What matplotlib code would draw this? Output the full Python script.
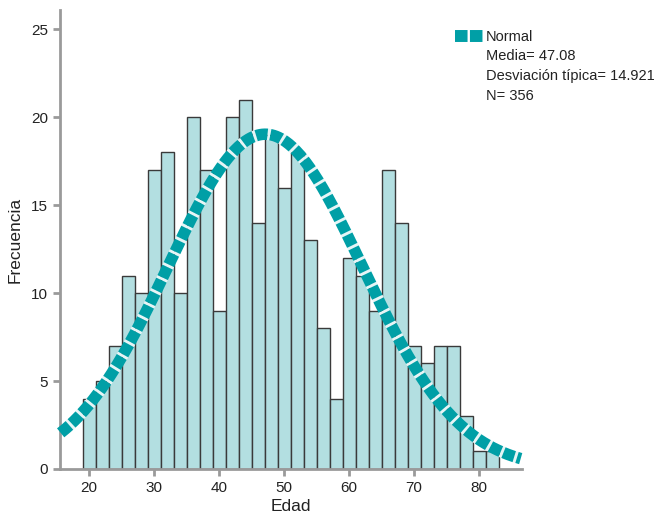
import numpy as np
import matplotlib
matplotlib.use("Agg")
import matplotlib.pyplot as plt
from matplotlib.lines import Line2D

plt.rcParams['font.family'] = ['Liberation Sans', 'DejaVu Sans']

# Data
bin_start = 19
bin_width = 2
counts = [4, 5, 7, 11, 10, 17, 18, 10, 20, 17, 9, 20, 21, 14, 19, 16,
          18, 13, 8, 4, 12, 11, 9, 17, 14, 7, 6, 7, 7, 3, 1, 1]
mean = 47.08
sd = 14.921
n = 356
xticks = [20, 30, 40, 50, 60, 70, 80]
yticks = [0, 5, 10, 15, 20, 25]

fig = plt.figure(figsize=(6.56, 5.18), dpi=100)
ax = fig.add_axes([60/656, 49/518, 462/656, 459/518])

lefts = bin_start + bin_width*np.arange(len(counts))
ax.bar(lefts, counts, width=bin_width, align='edge', color='#B3DFE1',
       edgecolor='#3a3a3a', linewidth=1.0, zorder=2)

xs = np.linspace(15.6, 86.4, 400)
ys = n*bin_width/(sd*np.sqrt(2*np.pi))*np.exp(-0.5*((xs-mean)/sd)**2)
teal = '#009FA6'
ax.plot(xs, ys, color=teal, lw=8.3, linestyle=(0, (1.0, 0.25)),
        gapcolor='#E6F5F6', solid_capstyle='butt', dash_capstyle='butt', zorder=3,
        clip_on=False)

ax.set_xlim(15.5, 86.6)
ax.set_ylim(0, 26.1)
ax.set_xticks(xticks)
ax.set_yticks(yticks)
for s in ['top', 'right']:
    ax.spines[s].set_visible(False)
for s in ['left', 'bottom']:
    ax.spines[s].set_color('#9a9a9a')
    ax.spines[s].set_linewidth(2)
ax.tick_params(colors='#9a9a9a', width=2, length=5, labelsize=11, labelcolor='#222222')
ax.set_xlabel('Edad', fontsize=12.5, color='#222222', labelpad=3)
ax.set_ylabel('Frecuencia', fontsize=12.5, color='#222222', labelpad=6)

# Legend
lx0, lx1, ly = 455/656, 483/656, 1 - 36/518
fig.add_artist(Line2D([lx0, lx1], [ly, ly], transform=fig.transFigure, color=teal,
                      lw=8.6, linestyle=(0, (1.05, 0.2)), gapcolor='white'))
lines = ['Normal', 'Media= 47.08', 'Desviación típica= 14.921', 'N= 356']
for i, t in enumerate(lines):
    fig.text(486/656, 1 - (37 + i*19.5)/518, t, fontsize=10.5, color='#222222',
             va='center', ha='left')

fig.savefig('out.png', dpi=100)
